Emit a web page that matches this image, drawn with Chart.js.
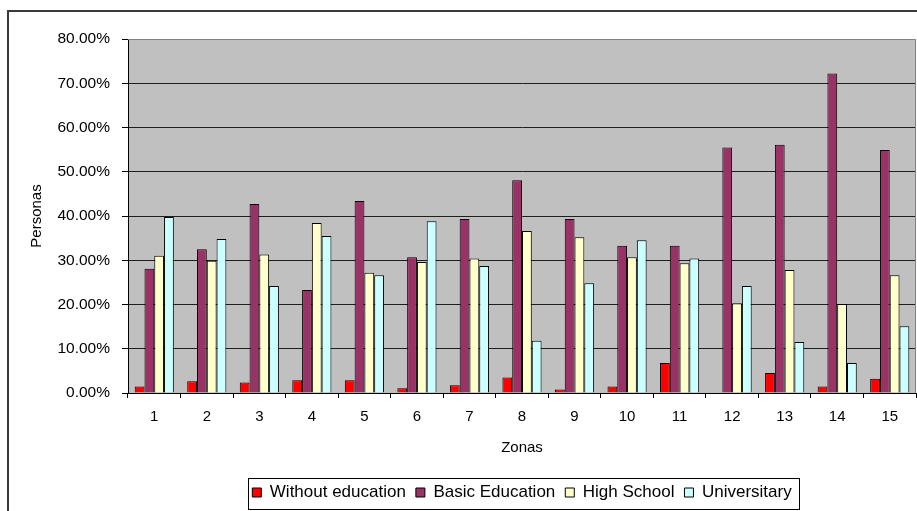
<!DOCTYPE html>
<html>
<head>
<meta charset="utf-8">
<script src="https://cdn.jsdelivr.net/npm/chart.js@4.4.1/dist/chart.umd.min.js"></script>
<style>
    html, body { margin: 0; padding: 0; background: #fff; }
    #wrap { width: 917px; height: 511px; position: relative; }
</style>
</head>
<body>
<div id="wrap"><canvas id="zonasChart"></canvas></div>
<script>
// porcentaje de personas por nivel educativo en cada zona
const zonas = ['1', '2', '3', '4', '5', '6', '7', '8', '9', '10', '11', '12', '13', '14', '15'];
const sinEducacion = [1.45, 2.65, 2.35, 2.9, 2.9, 1.05, 1.75, 3.5, 0.8, 1.45, 6.8, 0, 4.5, 1.45, 3.2];
const basica = [28.1, 32.5, 42.7, 23.3, 43.4, 30.7, 39.3, 48.1, 39.3, 33.3, 33.3, 55.5, 56.1, 72.2, 54.9];
const secundaria = [31.0, 29.9, 31.3, 38.4, 27.2, 29.6, 30.4, 36.6, 35.2, 30.7, 29.3, 20.3, 27.8, 20.1, 26.6];
const universitaria = [39.8, 34.8, 24.2, 35.5, 26.6, 38.8, 28.7, 11.8, 24.8, 34.5, 30.4, 24.2, 11.5, 6.8, 15.1];
const yTicks = [0, 10, 20, 30, 40, 50, 60, 70, 80];

const fontFamily = '"Liberation Sans", Arial, sans-serif';

// fondo gris del area, marco exterior y recuadro de la leyenda
const decoPlugin = {
    id: 'deco',
    beforeDraw(chart) {
        const ctx = chart.ctx;
        const a = chart.chartArea;
        ctx.save();
        ctx.fillStyle = '#ffffff';
        ctx.fillRect(0, 0, chart.width, chart.height);
        ctx.fillStyle = '#c0c0c0';
        ctx.fillRect(a.left, a.top, a.right - a.left, a.bottom - a.top);
        ctx.strokeStyle = '#3a3a3a';
        ctx.lineWidth = 2;
        ctx.strokeRect(8, 11, chart.width + 20, chart.height + 20);
        ctx.restore();
    },
    afterDatasetsDraw(chart) {
        const ctx = chart.ctx;
        const a = chart.chartArea;
        ctx.save();
        ctx.strokeStyle = '#808080';
        ctx.lineWidth = 1;
        ctx.beginPath();
        ctx.moveTo(a.left, a.top + 0.5);
        ctx.lineTo(a.right - 0.5, a.top + 0.5);
        ctx.lineTo(a.right - 0.5, a.bottom);
        ctx.stroke();
        ctx.restore();
    },
    afterDraw(chart) {
        const lg = chart.legend;
        if (!lg || !lg.legendHitBoxes.length) return;
        const boxes = lg.legendHitBoxes;
        const first = boxes[0];
        const last = boxes[boxes.length - 1];
        const ctx = chart.ctx;
        ctx.save();
        ctx.strokeStyle = '#000';
        ctx.lineWidth = 1;
        const x0 = Math.round(first.left - 4) + 0.5;
        const x1 = Math.round(last.left + last.width + 7) + 0.5;
        const y0 = Math.round(lg.top + 4) + 0.5;
        const y1 = chart.height - 1.5;
        ctx.strokeRect(x0, y0, x1 - x0, y1 - y0);
        ctx.restore();
    }
};

function serie(label, data, color) {
    return {
        label: label,
        data: data,
        backgroundColor: color,
        borderColor: '#000000',
        borderWidth: 1,
        categoryPercentage: 0.745,
        barPercentage: 1.0
    };
}

const ctx = document.getElementById('zonasChart').getContext('2d');

const data = {
    labels: zonas,
    datasets: [
        serie('Without education', sinEducacion, '#ff0000'),
        serie('Basic Education', basica, '#993366'),
        serie('High School', secundaria, '#ffffcc'),
        serie('Universitary', universitaria, '#ccffff')
    ]
};

const options = {
    responsive: true,
    maintainAspectRatio: false,
    animation: false,
    devicePixelRatio: 1,
    layout: {
        padding: { top: 39, right: 1, left: 0, bottom: 0 }
    },
    plugins: {
        tooltip: { enabled: false },
        legend: {
            position: 'bottom',
            fullSize: false,
            labels: {
                boxWidth: 9,
                boxHeight: 9,
                padding: 10,
                color: '#000',
                font: { family: fontFamily, size: 17 }
            }
        }
    },
    scales: {
        x: {
            afterFit(scale) { scale.height = 81; },
            grid: {
                offset: true,
                drawOnChartArea: false,
                tickLength: 5,
                tickColor: '#000'
            },
            border: { color: '#000', width: 1 },
            ticks: {
                color: '#000',
                padding: 10,
                maxRotation: 0,
                font: { family: fontFamily, size: 15 }
            },
            title: {
                display: true,
                text: 'Zonas',
                color: '#000',
                padding: { top: 0, bottom: 17 },
                font: { family: fontFamily, size: 15 }
            }
        },
        y: {
            min: 0,
            max: 80,
            afterFit(scale) { scale.width = 128; },
            afterBuildTicks(scale) { scale.ticks = yTicks.map(v => ({ value: v })); },
            grid: {
                color: c => (c.tick && c.tick.value >= 80) ? 'rgba(0,0,0,0)' : '#1e1e1e',
                tickColor: '#000',
                tickLength: 6
            },
            border: { color: '#000', width: 1 },
            ticks: {
                color: '#000',
                padding: 12,
                font: { family: fontFamily, size: 15.5 },
                callback: v => v.toFixed(2) + '%'
            },
            title: {
                display: true,
                text: 'Personas',
                color: '#000',
                padding: { top: 28, bottom: 0 },
                font: { family: fontFamily, size: 15 }
            }
        }
    }
};

const config = {
    type: 'bar',
    data: data,
    options: options,
    plugins: [decoPlugin]
};

const zonasChart = new Chart(ctx, config);
</script>
</body>
</html>
